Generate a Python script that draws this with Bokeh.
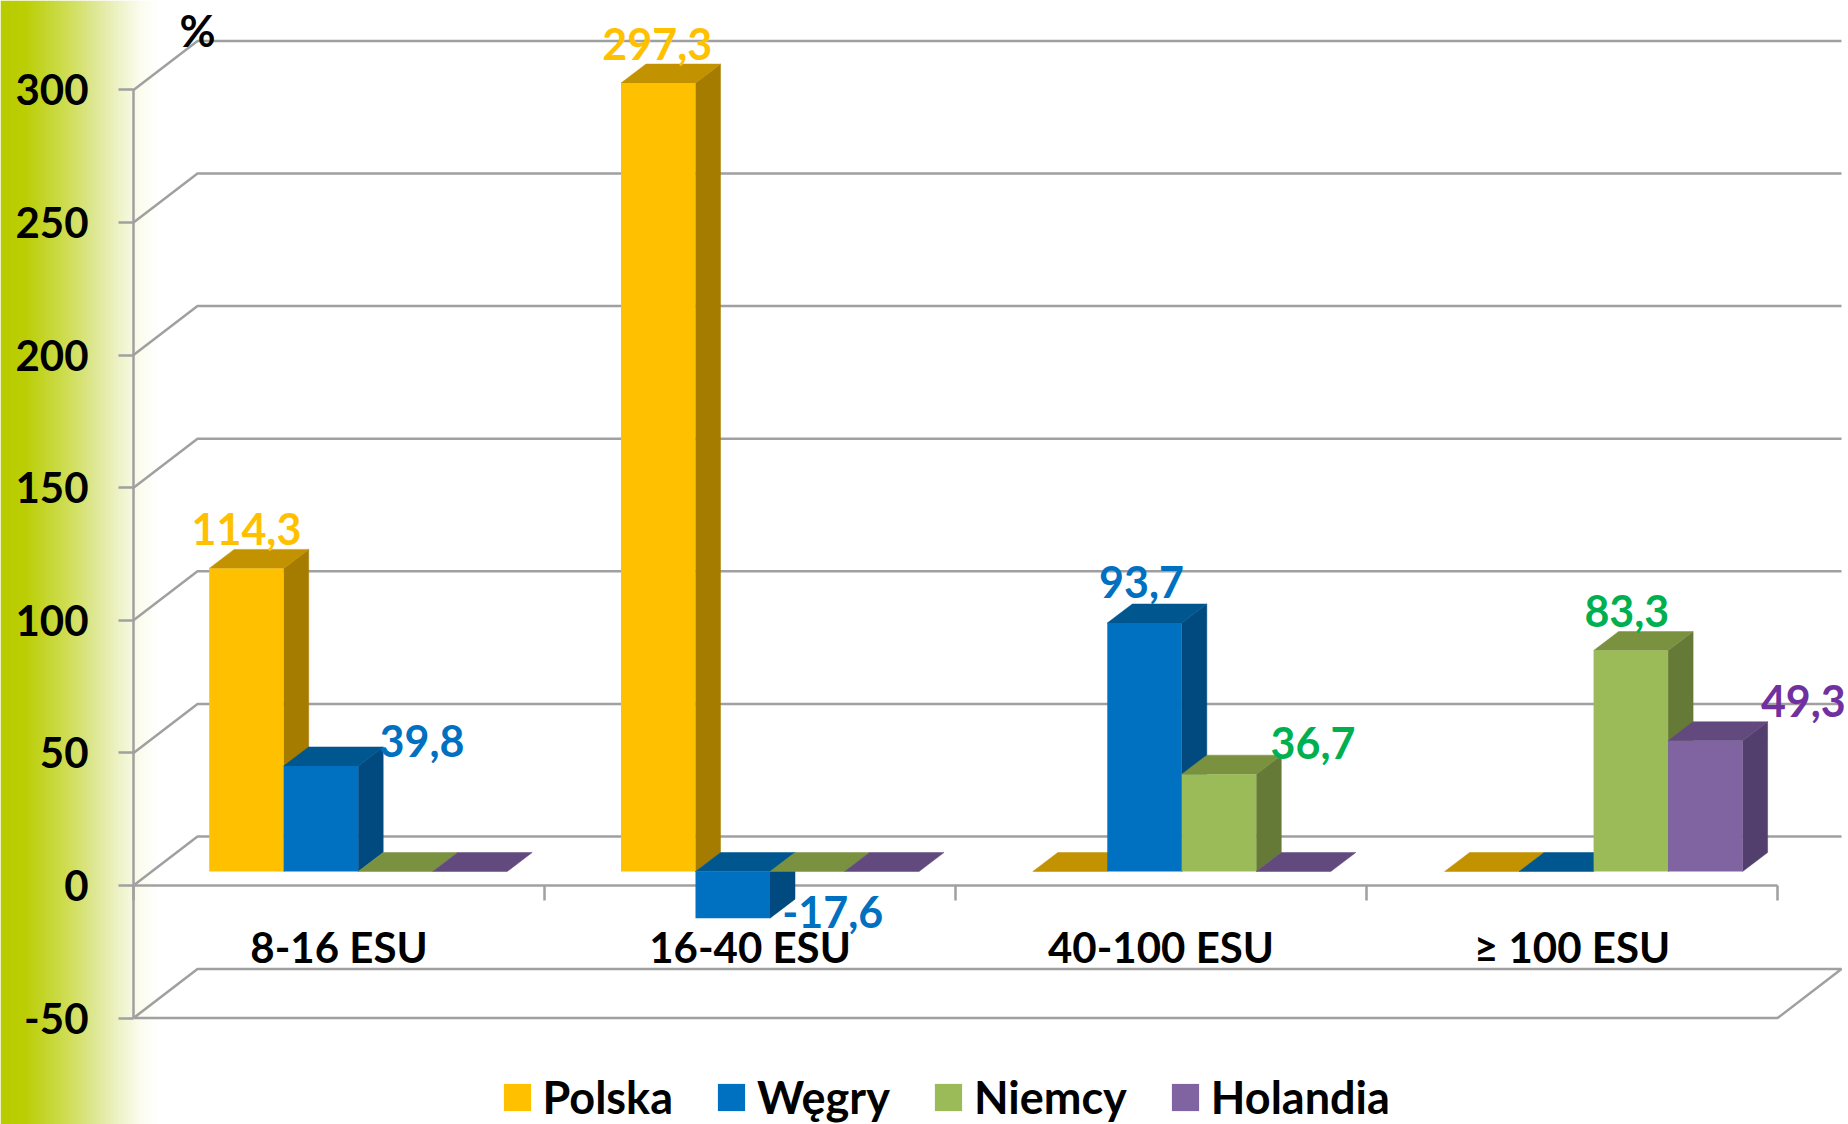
import numpy as np
from bokeh.embed import file_html
from bokeh.resources import INLINE
from bokeh.plotting import figure
from bokeh.models import (LinearAxis, FixedTicker, Legend, LegendItem, ColumnDataSource)
from bokeh.core.properties import value

# ---------- data ----------
categories = ["8-16 ESU", "16-40 ESU", "40-100 ESU", "≥ 100 ESU"]
polska = [114.3, 297.3, 0, 0]
wegry = [39.8, -17.6, 93.7, 0]
niemcy = [0, 0, 36.7, 83.3]
holandia = [0, 0, 0, 49.3]
series_names = ["Polska", "Węgry", "Niemcy", "Holandia"]
y_ticks = [-50, 0, 50, 100, 150, 200, 250, 300]
unit_label = "%"

# ---------- style ----------
front_colors = ["#FFC000", "#0070C0", "#9BBB59", "#8064A2"]
top_colors = ["#C29200", "#00568F", "#7A9140", "#634A7E"]
side_colors = ["#A67C00", "#004A80", "#667A37", "#533F6E"]
label_colors = ["#FFC000", "#0070C0", "#00B050", "#7030A0"]
grid_color = "#A0A0A0"
FONT = "Lato"

# ---------- layout: scales of the reference picture ----------
W, H = 1848, 1124
PX_PER_CAT = 411.0
PX_PER_UNIT = 2.652
AXIS_X_PX, ZERO_Y_PX = 133.0, 885.0


def dx(px):
    return px / PX_PER_CAT


def dy(px):
    return px / PX_PER_UNIT


p = figure(width=W, height=H, output_backend="svg", toolbar_location=None,
           x_axis_type=None, y_axis_type=None, min_border=0,
           x_range=(dx(-AXIS_X_PX), dx(W - AXIS_X_PX)),
           y_range=(dy(ZERO_Y_PX - H), dy(ZERO_Y_PX)))
p.outline_line_color = None
p.background_fill_color = "white"
p.border_fill_color = None
p.xgrid.visible = False
p.ygrid.visible = False

# left gradient band
stop_px = [0, 25, 45, 70, 90, 120, 140, 157]
stop_rgb = [(184, 204, 0), (188, 207, 5), (197, 214, 46), (209, 223, 92),
            (220, 230, 140), (240, 244, 204), (252, 253, 240), (255, 255, 255)]
band_x = np.arange(0, 158)
band = np.zeros((1, len(band_x)), dtype=np.uint32)
view = band.view(dtype=np.uint8).reshape((1, len(band_x), 4))
for c in range(3):
    view[0, :, c] = np.interp(band_x, stop_px, [s[c] for s in stop_rgb])
view[0, :, 3] = 255
p.image_rgba(image=[band], x=dx(-AXIS_X_PX), y=dy(ZERO_Y_PX - H),
             dw=dx(158), dh=dy(H), level="image")

# walls: grid lines running from the front edge to the back wall
WALL_DX, WALL_DY = dx(64), dy(49)
RIGHT = 4.0
grid_xs, grid_ys = [], []
for t in y_ticks:
    if t > y_ticks[0]:
        grid_xs.append([0, WALL_DX, RIGHT + WALL_DX])
        grid_ys.append([t, t + WALL_DY, t + WALL_DY])
    else:
        grid_xs.append([0, WALL_DX, RIGHT + WALL_DX, RIGHT, 0])
        grid_ys.append([t, t + WALL_DY, t + WALL_DY, t, t])
p.multi_line(grid_xs, grid_ys, line_color=grid_color, line_width=2.5, level="underlay")

# 3D bars
GROUP_PAD = dx(75.7)
GROUP_PITCH = dx(411.8)
BAR_W = dx(74.5)
DEPTH_X, DEPTH_Y = dx(25), dy(19)
BASE = dy(14)
all_series = [polska, wegry, niemcy, holandia]
legend_items = []
for s, vals in enumerate(all_series):
    top_xs, top_ys, side_xs, side_ys, front_xs, front_ys = [], [], [], [], [], []
    for g, v in enumerate(vals):
        x0 = g * GROUP_PITCH + GROUP_PAD + s * BAR_W
        x1 = x0 + BAR_W
        hi = BASE + max(v, 0)
        lo = BASE + min(v, 0)
        top_xs.append([x0, x1, x1 + DEPTH_X, x0 + DEPTH_X])
        top_ys.append([hi, hi, hi + DEPTH_Y, hi + DEPTH_Y])
        if v != 0:
            side_xs.append([x1, x1 + DEPTH_X, x1 + DEPTH_X, x1])
            side_ys.append([lo, lo + DEPTH_Y, hi + DEPTH_Y, hi])
            front_xs.append([x0, x1, x1, x0])
            front_ys.append([lo, lo, hi, hi])
    p.patches(side_xs, side_ys, fill_color=side_colors[s], line_color=side_colors[s], line_width=0.5)
    p.patches(top_xs, top_ys, fill_color=top_colors[s], line_color=top_colors[s], line_width=0.5)
    r = p.patches(front_xs, front_ys, fill_color=front_colors[s], line_color=None)
    legend_items.append(LegendItem(label=series_names[s], renderers=[r]))

# axes
yaxis = LinearAxis(fixed_location=0, ticker=FixedTicker(ticks=y_ticks), bounds=(y_ticks[0], y_ticks[-1]))
yaxis.major_label_overrides = {t: str(t) for t in y_ticks}
yaxis.axis_line_color = grid_color
yaxis.axis_line_width = 2.5
yaxis.major_tick_line_color = grid_color
yaxis.major_tick_line_width = 2.5
yaxis.major_tick_out = 15
yaxis.major_tick_in = 0
yaxis.minor_tick_line_color = None
yaxis.major_label_standoff = 30
yaxis.major_label_text_font = FONT
yaxis.major_label_text_font_style = "bold"
yaxis.major_label_text_font_size = "42px"
yaxis.major_label_text_color = "black"
yaxis.level = "underlay"
p.add_layout(yaxis, "left")

cat_edges = list(range(len(categories) + 1))
xaxis = LinearAxis(fixed_location=0, ticker=FixedTicker(ticks=cat_edges),
                   bounds=(0, len(categories)))
xaxis.major_label_overrides = {t: "" for t in cat_edges}
xaxis.axis_line_color = grid_color
xaxis.axis_line_width = 2.5
xaxis.major_tick_line_color = grid_color
xaxis.major_tick_line_width = 2.5
xaxis.major_tick_out = 15
xaxis.major_tick_in = 0
xaxis.minor_tick_line_color = None
xaxis.level = "underlay"
p.add_layout(xaxis, "below")

cat_ticks = [i + 0.5 for i in range(len(categories))]
cat_axis = LinearAxis(fixed_location=0, ticker=FixedTicker(ticks=cat_ticks))
cat_axis.major_label_overrides = {t: c for t, c in zip(cat_ticks, categories)}
cat_axis.axis_line_color = None
cat_axis.major_tick_line_color = None
cat_axis.minor_tick_line_color = None
cat_axis.major_label_standoff = 30
cat_axis.major_label_text_font = FONT
cat_axis.major_label_text_font_style = "bold"
cat_axis.major_label_text_font_size = "42px"
cat_axis.major_label_text_color = "black"
p.add_layout(cat_axis, "below")

# value labels (pixel offsets from the centre of the bar's front face / top)
label_offsets = {
    (0, 0): (0, 39), (0, 1): (-1, 39),
    (1, 0): (101, 25), (1, 1): (100, 6), (1, 2): (-3, 41),
    (2, 2): (94, 31), (2, 3): (-4, 40),
    (3, 3): (98, 40),
}
for s, vals in enumerate(all_series):
    xs, ys, txt, xo, yo = [], [], [], [], []
    for g, v in enumerate(vals):
        if v == 0:
            continue
        ox, oy = label_offsets[(s, g)]
        xs.append(g * GROUP_PITCH + GROUP_PAD + (s + 0.5) * BAR_W)
        ys.append(BASE + v)
        txt.append(f"{v:.1f}".replace(".", ","))
        xo.append(ox)
        yo.append(-oy)
    src = ColumnDataSource(dict(x=xs, y=ys, t=txt, xo=xo, yo=yo))
    p.text("x", "y", text="t", source=src, x_offset="xo", y_offset="yo",
           text_font=value(FONT), text_font_style="bold", text_font_size="43px",
           text_color=label_colors[s], text_align="center", text_baseline="middle")

# unit label
p.text([dx(197 - AXIS_X_PX)], [dy(ZERO_Y_PX - 29)], text=[unit_label],
       text_font=value(FONT), text_font_style="bold", text_font_size="44px",
       text_color="black", text_align="center", text_baseline="middle")

legend = Legend(items=legend_items, orientation="horizontal", location=(499.5, 0),
                glyph_width=34, glyph_height=34, label_standoff=9, spacing=41,
                padding=0, margin=0, border_line_color=None, background_fill_color=None,
                background_fill_alpha=0, label_text_font=FONT, label_text_font_style="bold",
                label_text_font_size="45px", label_text_color="black")
p.add_layout(legend, "center")

open("out.html", "w").write(file_html(p, INLINE))
